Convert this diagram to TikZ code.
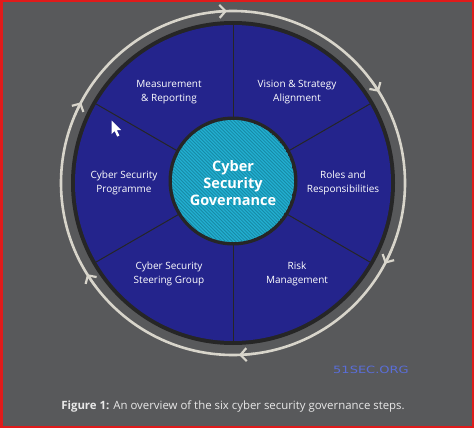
\documentclass[tikz,border=0pt]{standalone}
\usepackage{fontspec}
\setmainfont{Open Sans}
\newfontfamily\wmfont[FakeStretch=1.3]{DejaVu Sans}
\usetikzlibrary{arrows.meta,calc}
\definecolor{bgGray}{HTML}{58595B}
\definecolor{ringCol}{HTML}{D8D5CB}
\definecolor{discBlue}{HTML}{24248C}
\definecolor{discEdge}{HTML}{262626}
\definecolor{hubCyan}{HTML}{22AED0}
\definecolor{hubStripe}{HTML}{168AA6}
\definecolor{wmBlue}{HTML}{5A6ED8}
\definecolor{capText}{HTML}{E8E8E8}
\definecolor{frameRed}{HTML}{E01B1B}
\tikzset{
  lbl/.style={text=white, align=center, font=\fontsize{10}{14}\selectfont, inner sep=0pt},
  hubtxt/.style={text=white, align=center, font=\bfseries\fontsize{14.5}{17}\selectfont, inner sep=0pt},
  ringline/.style={draw=ringCol, line width=2.6pt},
  divider/.style={draw=black!85, line width=1pt},
  chev/.style={draw=ringCol, line width=2.2pt, -{Straight Barb[length=6pt,width=13pt,line width=2.2pt]}},
}
\begin{document}
\begin{tikzpicture}[x=1pt,y=1pt]
\useasboundingbox (0,0) rectangle (474,-428);
\fill[bgGray] (0,0) rectangle (474,-428);
\coordinate (C) at (233,-183);
% outer ring
\draw[ringline] (C) circle[radius=172];
\foreach \a in {92,32,-28,-88,212,152}{
  \draw[chev] (C) ++(\a+5:172) arc[start angle=\a+5, end angle=\a, radius=172];
}
% disc
\fill[discEdge] (C) circle[radius=162];
\fill[discBlue] (C) circle[radius=158];
% dividers
\foreach \a in {90,30,-30,-90,210,150}{
  \draw[divider] (C) -- ++(\a:158);
}
% hub
\fill[discEdge] (C) ++(0,2) circle[radius=64.5];
\begin{scope}
  \clip (C) ++(0,2) circle[radius=61];
  \fill[hubCyan] (C) ++(0,2) circle[radius=61];
  \foreach \k in {-45,...,45}{
    \draw[hubStripe, line width=0.8pt] ($(C)+(\k*3.4-80,82)$) -- ++(160,-160);
  }
\end{scope}
\node[hubtxt] (hub) at (233,-183) {Cyber\\Security\\Governance};
% labels
\node[lbl] (mr) at (169,-92) {Measurement\\\& Reporting};
\node[lbl] (vs) at (297,-92) {Vision \& Strategy\\Alignment};
\node[lbl] (rr) at (343,-183) {Roles and\\Responsibilities};
\node[lbl] (rm) at (297,-274) {Risk\\Management};
\node[lbl] (sg) at (169,-274) {Cyber Security\\Steering Group};
\node[lbl] (cp) at (124,-183) {Cyber Security\\Programme};
% cursor
\fill[white] (111.5,-120.5) -- (111.5,-134) -- (114.6,-131) -- (117.2,-136.6) -- (119.4,-135.6) -- (116.8,-130) -- (121,-130) -- cycle;
% watermark
\node[text=wmBlue, font=\wmfont\fontsize{10}{11}\selectfont, inner sep=0pt] (wm) at (371,-370) {51SEC.ORG};
% caption
\node[text=capText, font=\fontsize{11.4}{13}\selectfont, inner sep=0pt] (cap) at (233,-407) {\textbf{Figure 1:} An overview of the six cyber security governance steps.};
% frame
\draw[frameRed, line width=2.5pt] (1.25,-1.25) rectangle (472.75,-426.75);
\end{tikzpicture}
\end{document}
